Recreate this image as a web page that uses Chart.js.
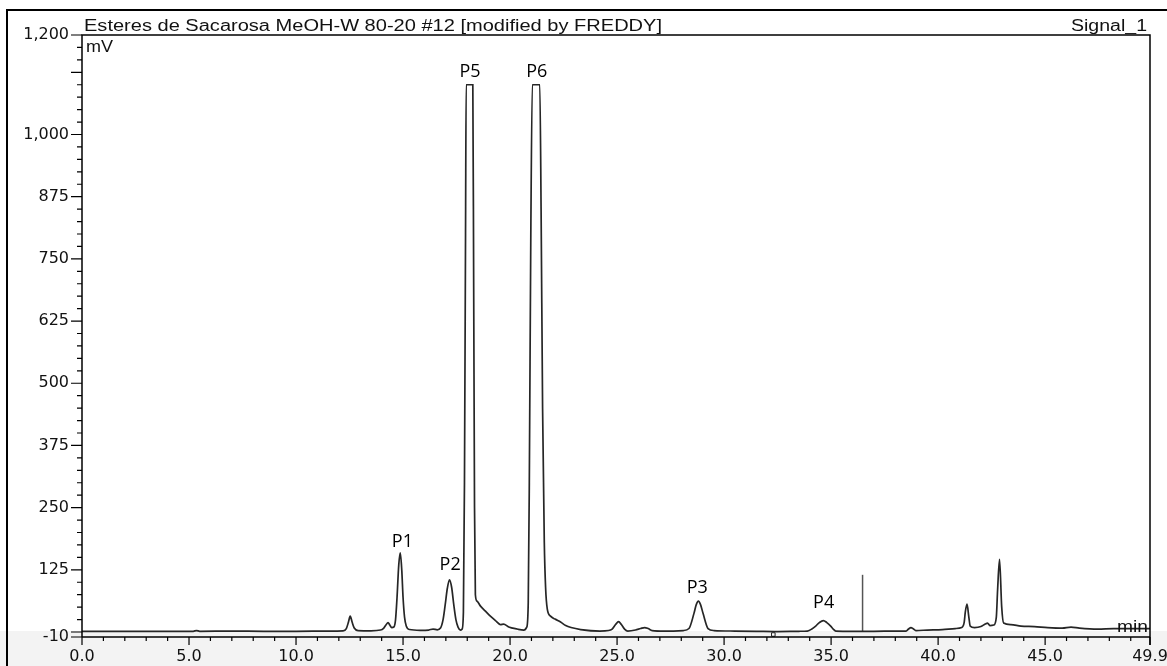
<!DOCTYPE html>
<html>
<head>
<meta charset="utf-8">
<script src="https://cdn.jsdelivr.net/npm/chart.js@4.4.1/dist/chart.umd.min.js"></script>
<style>
  html, body { margin: 0; padding: 0; background: #fff; }
  #chrom { display: block; }
</style>
</head>
<body>
<canvas id="chrom" width="1167" height="666"></canvas>
<script>
// retention time (min) / detector signal (mV)
const times = [
    0, 1.5, 3, 4.5, 5.2, 5.35, 5.5, 7, 8.5, 10, 11.5,
    12.2, 12.35, 12.45, 12.53, 12.62, 12.72, 12.9, 13.5, 13.95,
    14.1, 14.2, 14.3, 14.38, 14.47, 14.57, 14.65, 14.72, 14.8, 14.87, 14.94, 15.0, 15.07, 15.15, 15.3,
    15.8, 16.2, 16.4, 16.6, 16.75, 16.87, 16.97, 17.07, 17.17, 17.27, 17.37, 17.47, 17.57, 17.68,
    17.76, 17.82, 17.87, 17.92, 17.95, 18.26, 18.3, 18.34, 18.38, 18.46, 18.62, 18.85, 19.08, 19.32,
    19.55, 19.7, 19.94, 20.33, 20.64,
    20.78, 20.85, 20.9, 20.97, 21.04, 21.39, 21.45, 21.52, 21.6, 21.66, 21.74, 21.89, 22.1, 22.36,
    22.6, 22.85, 23.3, 24.2,
    24.6, 24.77, 24.93, 25.07, 25.2, 25.35, 25.5, 25.86, 26.1, 26.29, 26.45, 26.64, 27.2,
    28.1, 28.36, 28.59, 28.7, 28.8, 28.9, 29.02, 29.25, 29.53, 30.5, 31.5, 32.5, 33.5,
    33.89, 34.1, 34.28, 34.45, 34.64, 34.8, 34.98, 35.1, 35.22, 36, 37, 38,
    38.5, 38.62, 38.73, 38.85, 38.96, 39.5, 40.2, 40.8, 41.1,
    41.22, 41.27, 41.35, 41.43, 41.5, 41.7, 42.0, 42.2, 42.31, 42.42, 42.6,
    42.72, 42.78, 42.87, 42.97, 43.06, 43.4, 43.87, 44.5, 45.12, 45.8, 46.21, 46.6, 47.46, 48.2, 49, 49.9
];
const signal = [
    1.5, 1.5, 1.5, 1.5, 1.5, 3, 1.5, 2, 1.5, 1.5, 2,
    2.5, 7, 20, 32, 20, 8, 3, 2.5, 4,
    8, 14, 19, 14, 9, 10, 25, 70, 135, 159, 125, 70, 30, 12, 5,
    3.5, 4, 6, 4.5, 8, 25, 55, 88, 105, 90, 55, 25, 10, 4,
    6, 40, 300, 800, 1100, 1100, 700, 250, 75, 62, 52, 42, 32, 23,
    15, 16, 10, 6, 4,
    10, 60, 300, 800, 1100, 1100, 850, 450, 180, 90, 46, 32, 26, 20,
    13, 9, 5, 2,
    3, 6, 15, 21, 15, 6, 2, 4, 7, 9, 7, 3, 2,
    3, 7, 37, 55, 62, 55, 37, 7, 3, 2, 1.5, 1, 1.5,
    2, 6, 12, 19, 23, 19, 12, 6, 2, 1.5, 1.5, 2,
    2, 6, 9, 6, 3, 4, 5, 7, 9,
    20, 40, 56, 32, 12, 9, 11, 16, 18, 13, 14,
    30, 85, 146, 51, 18, 15, 12, 11, 9, 8, 10, 8, 6, 7, 7, 7
];

// event marker (vertical bar) and small integration marker
const eventTime = [36.47, 36.47];
const eventSignal = [1, 115];
const boxTime = [32.3];
const boxSignal = [-5];

const peakNames = ['P1', 'P2', 'P3', 'P4', 'P5', 'P6'];
const peakLabelTime = [14.97, 17.2, 28.75, 34.65, 18.13, 21.25];
const peakLabelSignal = [181, 135, 88, 58, 1125, 1125];

const xTickLabels = [0, 5, 10, 15, 20, 25, 30, 35, 40, 45, 49.9];
const yTickLabels = [1200, 1000, 875, 750, 625, 500, 375, 250, 125, -10];

function fitText(ctx, text, x, y, width, align) {
    const w = ctx.measureText(text).width;
    ctx.save();
    ctx.translate(align === 'right' ? x - width : x, y);
    ctx.scale(width / w, 1);
    ctx.textAlign = 'left';
    ctx.fillText(text, 0, 0);
    ctx.restore();
}

const frame = {
    id: 'frame',
    beforeDraw(chart) {
        const ctx = chart.ctx;
        ctx.save();
        ctx.fillStyle = '#f3f3f3';
        ctx.fillRect(0, 631, chart.width, chart.height - 631);
        ctx.restore();
    },
    afterDraw(chart) {
        const { ctx, chartArea: a, scales: { x, y } } = chart;
        ctx.save();
        ctx.strokeStyle = '#000';

        ctx.lineWidth = 2;
        ctx.beginPath();
        ctx.moveTo(7, chart.height);
        ctx.lineTo(7, 10);
        ctx.lineTo(chart.width, 10);
        ctx.stroke();

        ctx.lineWidth = 1.5;
        ctx.beginPath();
        ctx.moveTo(a.left, a.bottom);
        ctx.lineTo(a.left, a.top);
        ctx.lineTo(a.right, a.top);
        ctx.lineTo(a.right, a.bottom + 8);
        ctx.moveTo(a.left, a.bottom);
        ctx.lineTo(a.right, a.bottom);
        ctx.stroke();

        ctx.lineWidth = 1.2;
        ctx.beginPath();
        y.ticks.forEach(t => {
            const py = y.getPixelForValue(t.value);
            const len = t.label !== '' || t.value % 125 === 0 ? 11 : 5;
            ctx.moveTo(a.left - len, py);
            ctx.lineTo(a.left, py);
        });
        x.ticks.forEach(t => {
            const px = x.getPixelForValue(t.value);
            const len = t.label !== '' ? 8 : 4;
            ctx.moveTo(px, a.bottom);
            ctx.lineTo(px, a.bottom + len);
        });
        ctx.stroke();

        ctx.fillStyle = '#111';
        ctx.textBaseline = 'alphabetic';
        ctx.font = '16px "Liberation Sans"';
        fitText(ctx, 'Esteres de Sacarosa MeOH-W 80-20 #12 [modified by FREDDY]', 84, 31, 578, 'left');
        fitText(ctx, 'Signal_1', 1147, 31, 76, 'right');
        fitText(ctx, 'mV', 86, 52, 27, 'left');
        fitText(ctx, 'min', 1148, 632, 31, 'right');

        ctx.fillStyle = '#000';
        ctx.font = '18px "Open Sans"';
        ctx.textAlign = 'center';
        ctx.textBaseline = 'middle';
        peakNames.forEach((name, i) => {
            ctx.fillText(name, x.getPixelForValue(peakLabelTime[i]), y.getPixelForValue(peakLabelSignal[i]));
        });
        ctx.restore();
    }
};

const tickFont = { family: '"DejaVu Sans"', size: 16 };

new Chart(document.getElementById('chrom'), {
    type: 'line',
    data: {
        datasets: [{
            data: times.map((t, i) => ({ x: t, y: signal[i] })),
            borderColor: '#262626',
            borderWidth: 1.7,
            pointRadius: 0,
            cubicInterpolationMode: 'monotone'
        }, {
            data: eventTime.map((t, i) => ({ x: t, y: eventSignal[i] })),
            borderColor: '#555',
            borderWidth: 1.5,
            pointRadius: 0
        }, {
            data: boxTime.map((t, i) => ({ x: t, y: boxSignal[i] })),
            showLine: false,
            pointStyle: 'rect',
            pointRadius: 2.5,
            pointBorderWidth: 1,
            pointBorderColor: '#222',
            pointBackgroundColor: '#fff'
        }]
    },
    options: {
        responsive: false,
        animation: false,
        layout: { padding: { top: 35, right: 17, bottom: 0, left: 0 } },
        plugins: { legend: { display: false }, tooltip: { enabled: false } },
        scales: {
            x: {
                type: 'linear',
                min: 0,
                max: 49.9,
                grid: { display: false, drawTicks: false },
                border: { display: false },
                afterBuildTicks: s => {
                    const ticks = [];
                    for (let i = 0; i <= 49; i++) ticks.push({ value: i });
                    ticks.push({ value: 49.9 });
                    s.ticks = ticks;
                },
                afterFit: s => {
                    s.height = 29;
                    s.paddingLeft = 0;
                    s.paddingRight = 0;
                },
                ticks: {
                    autoSkip: false,
                    maxRotation: 0,
                    padding: 10,
                    color: '#111',
                    font: tickFont,
                    callback: v => xTickLabels.includes(v) ? v.toFixed(1) : ''
                }
            },
            y: {
                min: -10,
                max: 1200,
                grid: { display: false, drawTicks: false },
                border: { display: false },
                afterBuildTicks: s => {
                    const ticks = [{ value: -10 }];
                    for (let v = 0; v <= 1200; v += 25) ticks.push({ value: v });
                    s.ticks = ticks;
                },
                afterFit: s => {
                    s.width = 82;
                    s.paddingTop = 0;
                    s.paddingBottom = 0;
                },
                ticks: {
                    autoSkip: false,
                    padding: 13,
                    color: '#111',
                    font: tickFont,
                    callback: v => yTickLabels.includes(v) ? v.toLocaleString('en-US') : ''
                }
            }
        }
    },
    plugins: [frame]
});
</script>
</body>
</html>
